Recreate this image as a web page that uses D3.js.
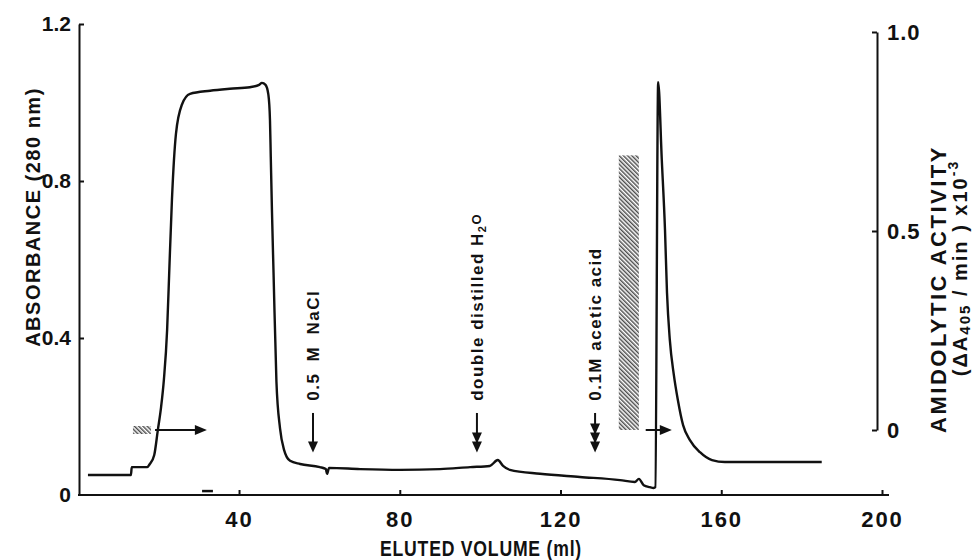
<!DOCTYPE html>
<html>
<head>
<meta charset="utf-8">
<script src="https://cdn.jsdelivr.net/npm/d3@7"></script>
<style>
  body { margin: 0; background: #ffffff; }
  text { font-family: 'Liberation Sans', Arial, sans-serif; font-weight: bold; fill: #111; }
</style>
</head>
<body>
<script>
// elution profile, absorbance at 280 nm
const volume = [2.4, 13.1, 13.3, 17.1, 17.8, 18.9, 19.8, 20.6, 21.3, 22.1, 22.6, 23.3, 24.3, 25.8, 27.8, 32.8, 37.7, 42.7, 45.0, 45.7, 46.6,
  47.3, 47.7, 47.9, 48.2, 48.6, 49.3, 50.2, 51.2, 52.7, 55.2, 60.1, 61.6, 61.9, 62.4, 70.1, 80.0, 90.0, 97.5, 102.4, 104.4,
  105.7, 107.4, 114.9, 124.8, 134.8, 138.5, 139.5, 140.7, 142.2, 143.2, 143.6, 144.3, 145.2, 146.0, 146.5, 147.2, 148.2,
  149.2, 150.5, 152.2, 154.7, 157.7, 160.9, 185.0];
const absorbance = [0.051, 0.051, 0.071, 0.071, 0.079, 0.102, 0.166, 0.224, 0.294, 0.420, 0.560, 0.752, 0.920, 0.995, 1.022, 1.030, 1.035, 1.039, 1.045, 1.050, 1.045,
  1.020, 0.955, 0.860, 0.720, 0.560, 0.290, 0.170, 0.115, 0.087, 0.079, 0.071, 0.066, 0.054, 0.069, 0.066, 0.064, 0.066, 0.071, 0.074, 0.089,
  0.074, 0.064, 0.054, 0.046, 0.038, 0.033, 0.041, 0.025, 0.020, 0.018, 0.020, 1.052, 0.854, 0.675, 0.515, 0.395, 0.306,
  0.242, 0.178, 0.140, 0.109, 0.089, 0.084, 0.084];

// amidolytic activity, hatched band
const bandStart = [134.5];
const bandEnd = [139.5];
const bandTop = [0.69];

// buffer changes
const annoLabels = ['0.5 M NaCl', 'double distilled H2O', '0.1M acetic acid'];
const annoVolume = [58.4, 99.2, 128.6];
const annoHeads = [1, 2, 3];

// horizontal arrows (from, to) in ml
const arrowFrom = [19.1, 141.2];
const arrowTo = [32.0, 147.7];

const xTicks = [40, 80, 120, 160, 200];
const yTicks = [0, 0.4, 0.8, 1.2];
const yRTicks = [0, 0.5, 1.0];

const svg = d3.select('body').append('svg')
  .attr('width', 978)
  .attr('height', 560)
  .style('background', '#ffffff');

const x = d3.scaleLinear().domain([0, 200]).range([78.3, 882]);
const y = d3.scaleLinear().domain([0, 1.2]).range([495, 24]);
const yR = d3.scaleLinear().domain([0, 1]).range([430, 32]);

const fmt = d => d === 0 ? '0' : d3.format('.1f')(d);

// hatch pattern
const defs = svg.append('defs');
const pat = defs.append('pattern')
  .attr('id', 'hatch')
  .attr('patternUnits', 'userSpaceOnUse')
  .attr('width', 3)
  .attr('height', 3)
  .attr('patternTransform', 'rotate(-45)');
pat.append('line')
  .attr('x1', 0.75).attr('y1', 0).attr('x2', 0.75).attr('y2', 3)
  .attr('stroke', '#444').attr('stroke-width', 1.4);

// axes
const gx = svg.append('g')
  .attr('transform', 'translate(0,495)')
  .call(d3.axisBottom(x).tickValues(xTicks).tickSize(-5).tickPadding(16).tickSizeOuter(0));
gx.select('.domain').attr('d', 'M78,0H889');

const gy = svg.append('g')
  .attr('transform', 'translate(79,0)')
  .call(d3.axisLeft(y).tickValues(yTicks).tickFormat(fmt).tickSize(-5).tickPadding(8).tickSizeOuter(0));

const gr = svg.append('g')
  .attr('transform', 'translate(877,0)')
  .call(d3.axisRight(yR).tickValues(yRTicks).tickFormat(fmt).tickSize(-5).tickPadding(10).tickSizeOuter(0));

[gx, gy, gr].forEach(g => {
  g.select('.domain').attr('stroke', '#111').attr('stroke-width', 2);
  g.selectAll('.tick line').attr('stroke', '#111').attr('stroke-width', 2);
  g.selectAll('.tick text')
    .attr('font-family', "'Liberation Sans', Arial, sans-serif")
    .attr('font-weight', 'bold')
    .attr('font-size', 22)
    .attr('fill', '#111');
});
gx.selectAll('.tick text').attr('letter-spacing', 2);
gr.selectAll('.tick text').attr('letter-spacing', 1);
gy.selectAll('.tick text').attr('font-size', 21);
gy.selectAll('.tick').filter(d => d === 0).select('line').remove();

// axis titles
svg.append('text')
  .attr('transform', 'translate(481,556) scale(0.8,1)')
  .attr('text-anchor', 'middle')
  .attr('font-size', 22)
  .attr('letter-spacing', 1)
  .text('ELUTED VOLUME (ml)');

svg.append('text')
  .attr('transform', 'translate(33,217) rotate(-90)')
  .attr('text-anchor', 'middle')
  .attr('dy', '0.35em')
  .attr('font-size', 20)
  .attr('letter-spacing', 1.5)
  .text('ABSORBANCE (280 nm)');

svg.append('text')
  .attr('transform', 'translate(938,289) rotate(-90)')
  .attr('text-anchor', 'middle')
  .attr('dy', '0.35em')
  .attr('font-size', 22)
  .attr('letter-spacing', 2.5)
  .text('AMIDOLYTIC ACTIVITY');

const t2 = svg.append('text')
  .attr('transform', 'translate(960,268) rotate(-90)')
  .attr('text-anchor', 'middle')
  .attr('dy', '0.35em')
  .attr('font-size', 20)
  .attr('letter-spacing', 2);
t2.append('tspan').text('(ΔA');
t2.append('tspan').attr('font-size', 15).attr('dy', 3).text('405');
t2.append('tspan').attr('dy', -3).text(' / min ) x10');
t2.append('tspan').attr('font-size', 14).attr('dy', -9).text('-3');

// hatched activity band
svg.selectAll('rect.band')
  .data(bandStart.map((s, i) => ({ s, e: bandEnd[i], t: bandTop[i] })))
  .join('rect')
  .attr('class', 'band')
  .attr('x', d => x(d.s))
  .attr('width', d => x(d.e) - x(d.s))
  .attr('y', d => yR(d.t))
  .attr('height', d => yR(0) - yR(d.t))
  .attr('fill', 'url(#hatch)');

// small hatched marker at sample application
svg.append('rect')
  .attr('x', x(13.6)).attr('width', x(18.1) - x(13.6))
  .attr('y', yR(0) - 4).attr('height', 8)
  .attr('fill', 'url(#hatch)');

// small dash above the axis
svg.append('line')
  .attr('x1', x(30.8)).attr('x2', x(33.5))
  .attr('y1', y(0.01)).attr('y2', y(0.01))
  .attr('stroke', '#111').attr('stroke-width', 2.5);

// trace
const line = d3.line()
  .x((d, i) => x(volume[i]))
  .y(d => y(d))
  .curve(d3.curveMonotoneX);

svg.append('path')
  .attr('d', line(absorbance))
  .attr('fill', 'none')
  .attr('stroke', '#111')
  .attr('stroke-width', 2.4)
  .attr('stroke-linejoin', 'round');

// horizontal arrows
arrowFrom.forEach((f, i) => {
  const ay = yR(0);
  const x2 = x(arrowTo[i]);
  svg.append('line')
    .attr('x1', x(f)).attr('x2', x2 - 8)
    .attr('y1', ay).attr('y2', ay)
    .attr('stroke', '#111').attr('stroke-width', 2);
  svg.append('path')
    .attr('d', `M${x2},${ay}L${x2 - 12},${ay - 5}L${x2 - 12},${ay + 5}Z`)
    .attr('fill', '#111');
});

// buffer annotations
annoLabels.forEach((lab, i) => {
  const ax = x(annoVolume[i]);
  const top = y(0.209);
  const tip = y(0.108);
  svg.append('line')
    .attr('x1', ax).attr('x2', ax)
    .attr('y1', top).attr('y2', tip - 6)
    .attr('stroke', '#111').attr('stroke-width', 2);
  for (let k = 0; k < annoHeads[i]; k++) {
    const ty = tip - k * 9;
    svg.append('path')
      .attr('d', `M${ax},${ty}L${ax - 5},${ty - 11}L${ax + 5},${ty - 11}Z`)
      .attr('fill', '#111');
  }
  const t = svg.append('text')
    .attr('transform', `translate(${ax},${y(0.24)}) rotate(-90)`)
    .attr('dy', '0.35em')
    .attr('font-size', 17)
    .attr('letter-spacing', 1.5);
  if (lab.endsWith('H2O')) {
    t.append('tspan').text('double distilled H');
    t.append('tspan').attr('font-size', 11).attr('dy', 3).text('2');
    t.append('tspan').attr('font-size', 13).attr('dy', -5).text('O');
  } else if (lab.includes('NaCl')) {
    t.attr('word-spacing', 5).text(lab);
  } else {
    t.text(lab);
  }
});
</script>
</body>
</html>
